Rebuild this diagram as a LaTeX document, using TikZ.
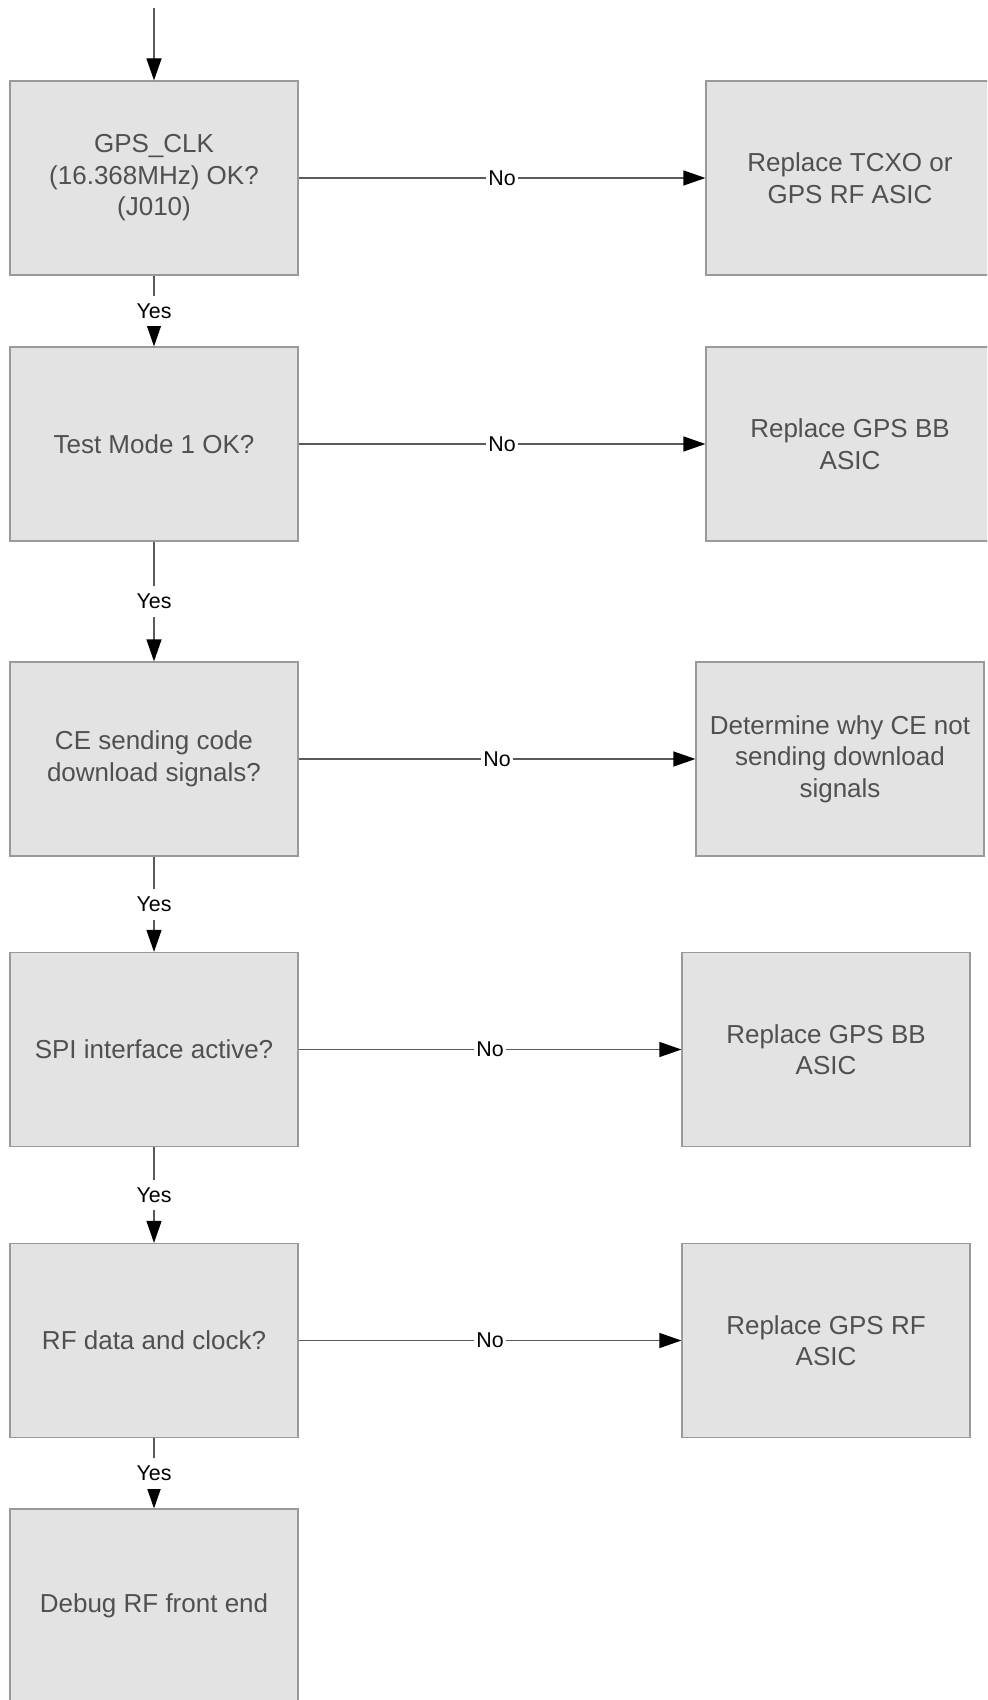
\documentclass[tikz,border=0pt]{standalone}
\usepackage{fontspec}
\setmainfont{Liberation Sans}
\usetikzlibrary{arrows.meta}
\definecolor{boxfill}{HTML}{E3E3E3}
\definecolor{boxline}{HTML}{9A9A9A}
\definecolor{boxtext}{HTML}{505050}
\definecolor{conn}{HTML}{5A5A5A}
\begin{document}
\begin{tikzpicture}[x=0.5pt,y=-0.5pt,
  stepbox/.style={draw=boxline, fill=boxfill, line width=0.6pt, minimum width=144pt, minimum height=97pt, inner sep=0pt, align=center, text=boxtext, font=\fontsize{13}{15.8}\selectfont},
  lbl/.style={fill=white, text=black, inner xsep=1.2pt, inner ysep=4pt, font=\fontsize{10.7}{12}\selectfont},
  flow/.style={draw=conn, line width=0.6pt, -{Triangle[length=11pt,width=7.5pt,color=black]}}
]
\useasboundingbox (0,0) rectangle (987,1700);
\clip (0,0) rectangle (987,1700);
\fill[white] (0,0) rectangle (987,1700);

\node[stepbox] (b1) at (154,178) {GPS\_CLK\\(16.368MHz) OK?\\(J010)};
\node[stepbox] (b2) at (154,444) {Test Mode 1 OK?};
\node[stepbox] (b3) at (154,759) {CE sending code\\download signals?};
\node[stepbox] (b4) at (154,1049.5) {SPI interface active?};
\node[stepbox] (b5) at (154,1340.5) {RF data and clock?};
\node[stepbox] (b6) at (154,1606) {Debug RF front end};

\node[stepbox] (r1) at (850,178) {Replace TCXO or\\GPS RF ASIC};
\node[stepbox] (r2) at (850,444) {Replace GPS BB\\ASIC};
\node[stepbox] (r3) at (840,759) {Determine why CE not\\sending download\\signals};
\node[stepbox] (r4) at (826,1049.5) {Replace GPS BB\\ASIC};
\node[stepbox] (r5) at (826,1340.5) {Replace GPS RF\\ASIC};

\coordinate (start) at (154,8);
\draw[flow] (start) -- (b1);

\draw[flow] (b1) -- node[lbl]{Yes} (b2);
\draw[flow] (b2) -- node[lbl]{Yes} (b3);
\draw[flow] (b3) -- node[lbl]{Yes} (b4);
\draw[flow] (b4) -- node[lbl]{Yes} (b5);
\draw[flow] (b5) -- node[lbl]{Yes} (b6);

\draw[flow] (b1) -- node[lbl]{No} (r1);
\draw[flow] (b2) -- node[lbl]{No} (r2);
\draw[flow] (b3) -- node[lbl]{No} (r3);
\draw[flow] (b4) -- node[lbl]{No} (r4);
\draw[flow] (b5) -- node[lbl]{No} (r5);
\end{tikzpicture}
\end{document}
